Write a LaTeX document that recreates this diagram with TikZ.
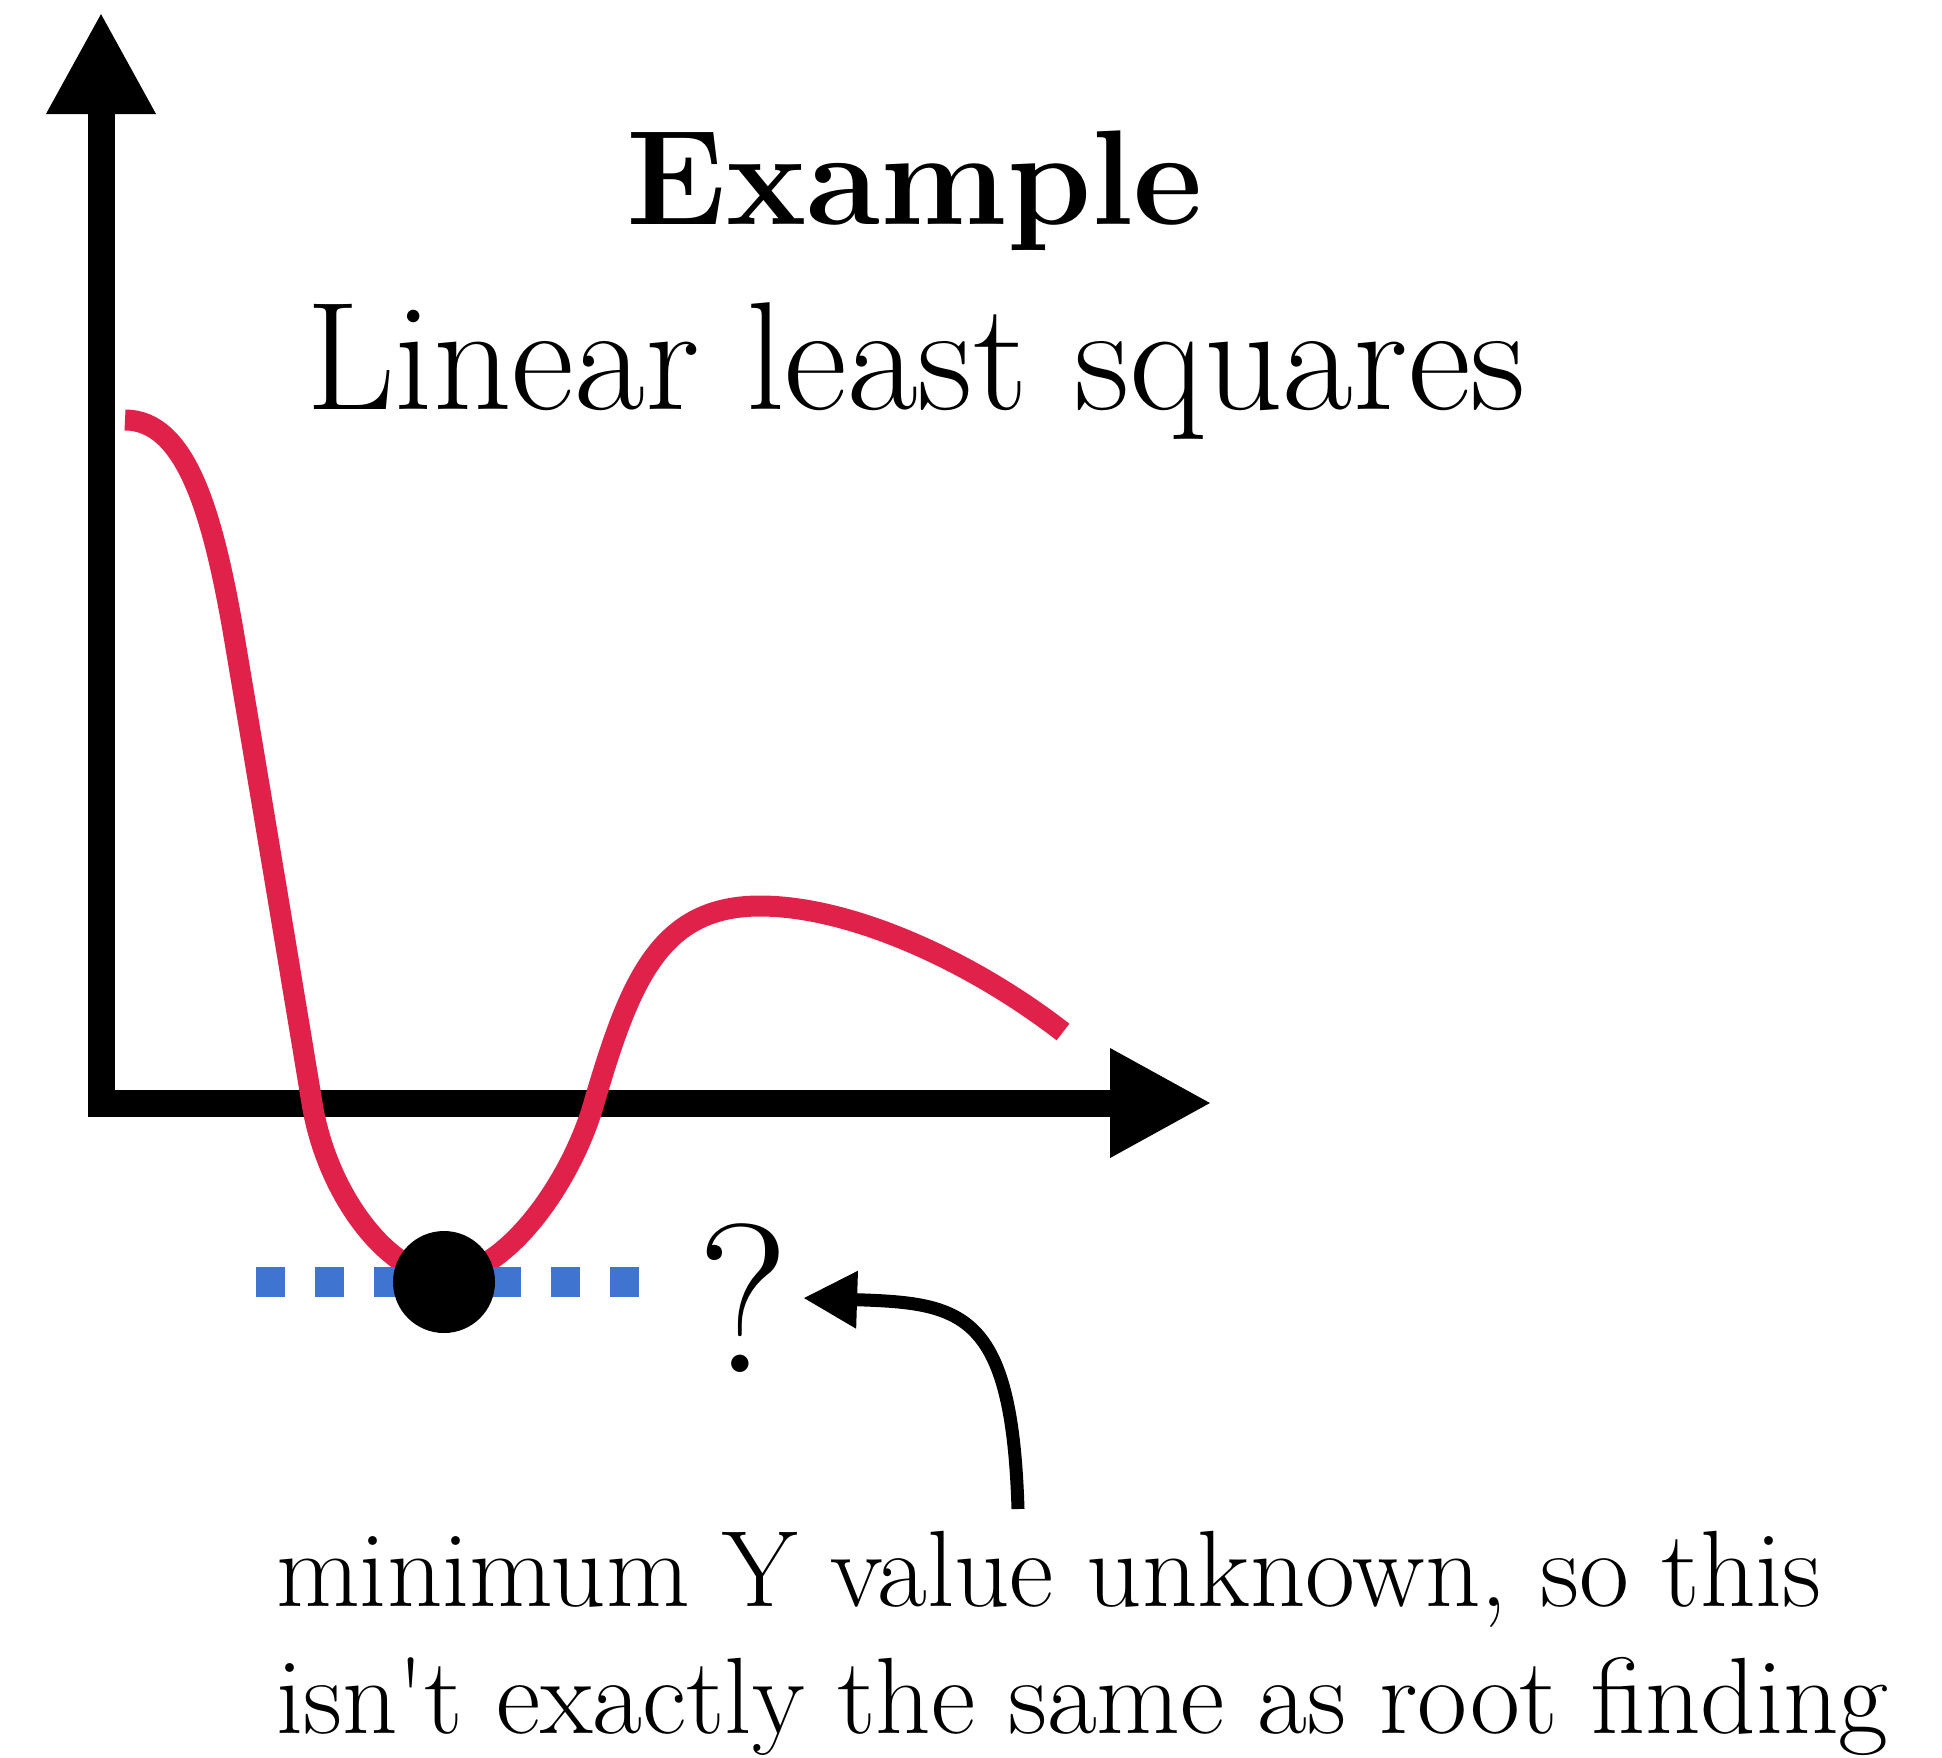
\documentclass[tikz,border=0pt]{standalone}
\usepackage{fontspec}
\usepackage{tikz}
\usetikzlibrary{arrows.meta}
\definecolor{cCurve}{HTML}{E0224B}
\definecolor{cFloor}{HTML}{3F74D0}
\definecolor{cInk}{HTML}{000000}
\tikzset{
  axis/.style  ={line width=27pt,cInk,line join=miter,
                 {Triangle[length=102pt,width=102pt]}-{Triangle[length=102pt,width=102pt]}},
  curve/.style ={line width=21pt,cCurve},
  floor/.style ={line width=30pt,cFloor,dash pattern=on 29pt off 30pt},
  mindot/.style={circle,fill=cInk,minimum size=102pt,inner sep=0pt},
  ptr/.style   ={line width=13pt,cInk,-{Triangle[length=54pt,width=54pt]}},
  ttl/.style   ={inner sep=0pt,anchor=base,font=\fontsize{135}{160}\selectfont\bfseries},
  sub/.style   ={inner sep=0pt,anchor=base,font=\fontsize{154}{180}\selectfont},
  qm/.style    ={inner sep=0pt,anchor=base,font=\fontsize{212}{240}\selectfont},
  note/.style  ={inner sep=0pt,anchor=base west,font=\fontsize{108.5}{132}\selectfont},
}
\begin{document}
\begin{tikzpicture}[x=1pt,y=-1pt]
\useasboundingbox (0,0) rectangle (1942,1757);
\coordinate (ytip) at (101,12);
\coordinate (o) at (101,1103);
\coordinate (xtip) at (1212,1103);
\draw[axis] (ytip) -- (o) -- (xtip);
\draw[curve] (125,420) .. controls (185,420) and (212,510) .. (233,630)
  .. controls (255,760) and (295,1000) .. (312,1103)
  .. controls (327,1196) and (390,1276) .. (444,1276)
  .. controls (505,1276) and (571,1183) .. (594,1103)
  .. controls (630,980) and (660,906) .. (760,906)
  .. controls (850,906) and (970,960) .. (1063,1032);
\coordinate (fl) at (256,1282);
\coordinate (fr) at (639,1282);
\draw[floor] (fl) -- (fr);
\node[mindot] (m) at (444,1282) {};
\node[ttl] (ttl) at (915,224) {Example};
\node[sub] (sub) at (916,409) {Linear least squares};
\node[qm] (q) at (743,1372) {?};
\node[note] (n1) at (276,1606) {minimum Y value unknown, so this};
\node[note] (n2) at (276,1733) {isn\textquotesingle t exactly the same as root finding};
\coordinate (tail) at (1018,1509);
\draw[ptr,shorten >=14pt] (tail) .. controls (1012,1310) and (962,1303) .. (q.east);
\end{tikzpicture}
\end{document}
